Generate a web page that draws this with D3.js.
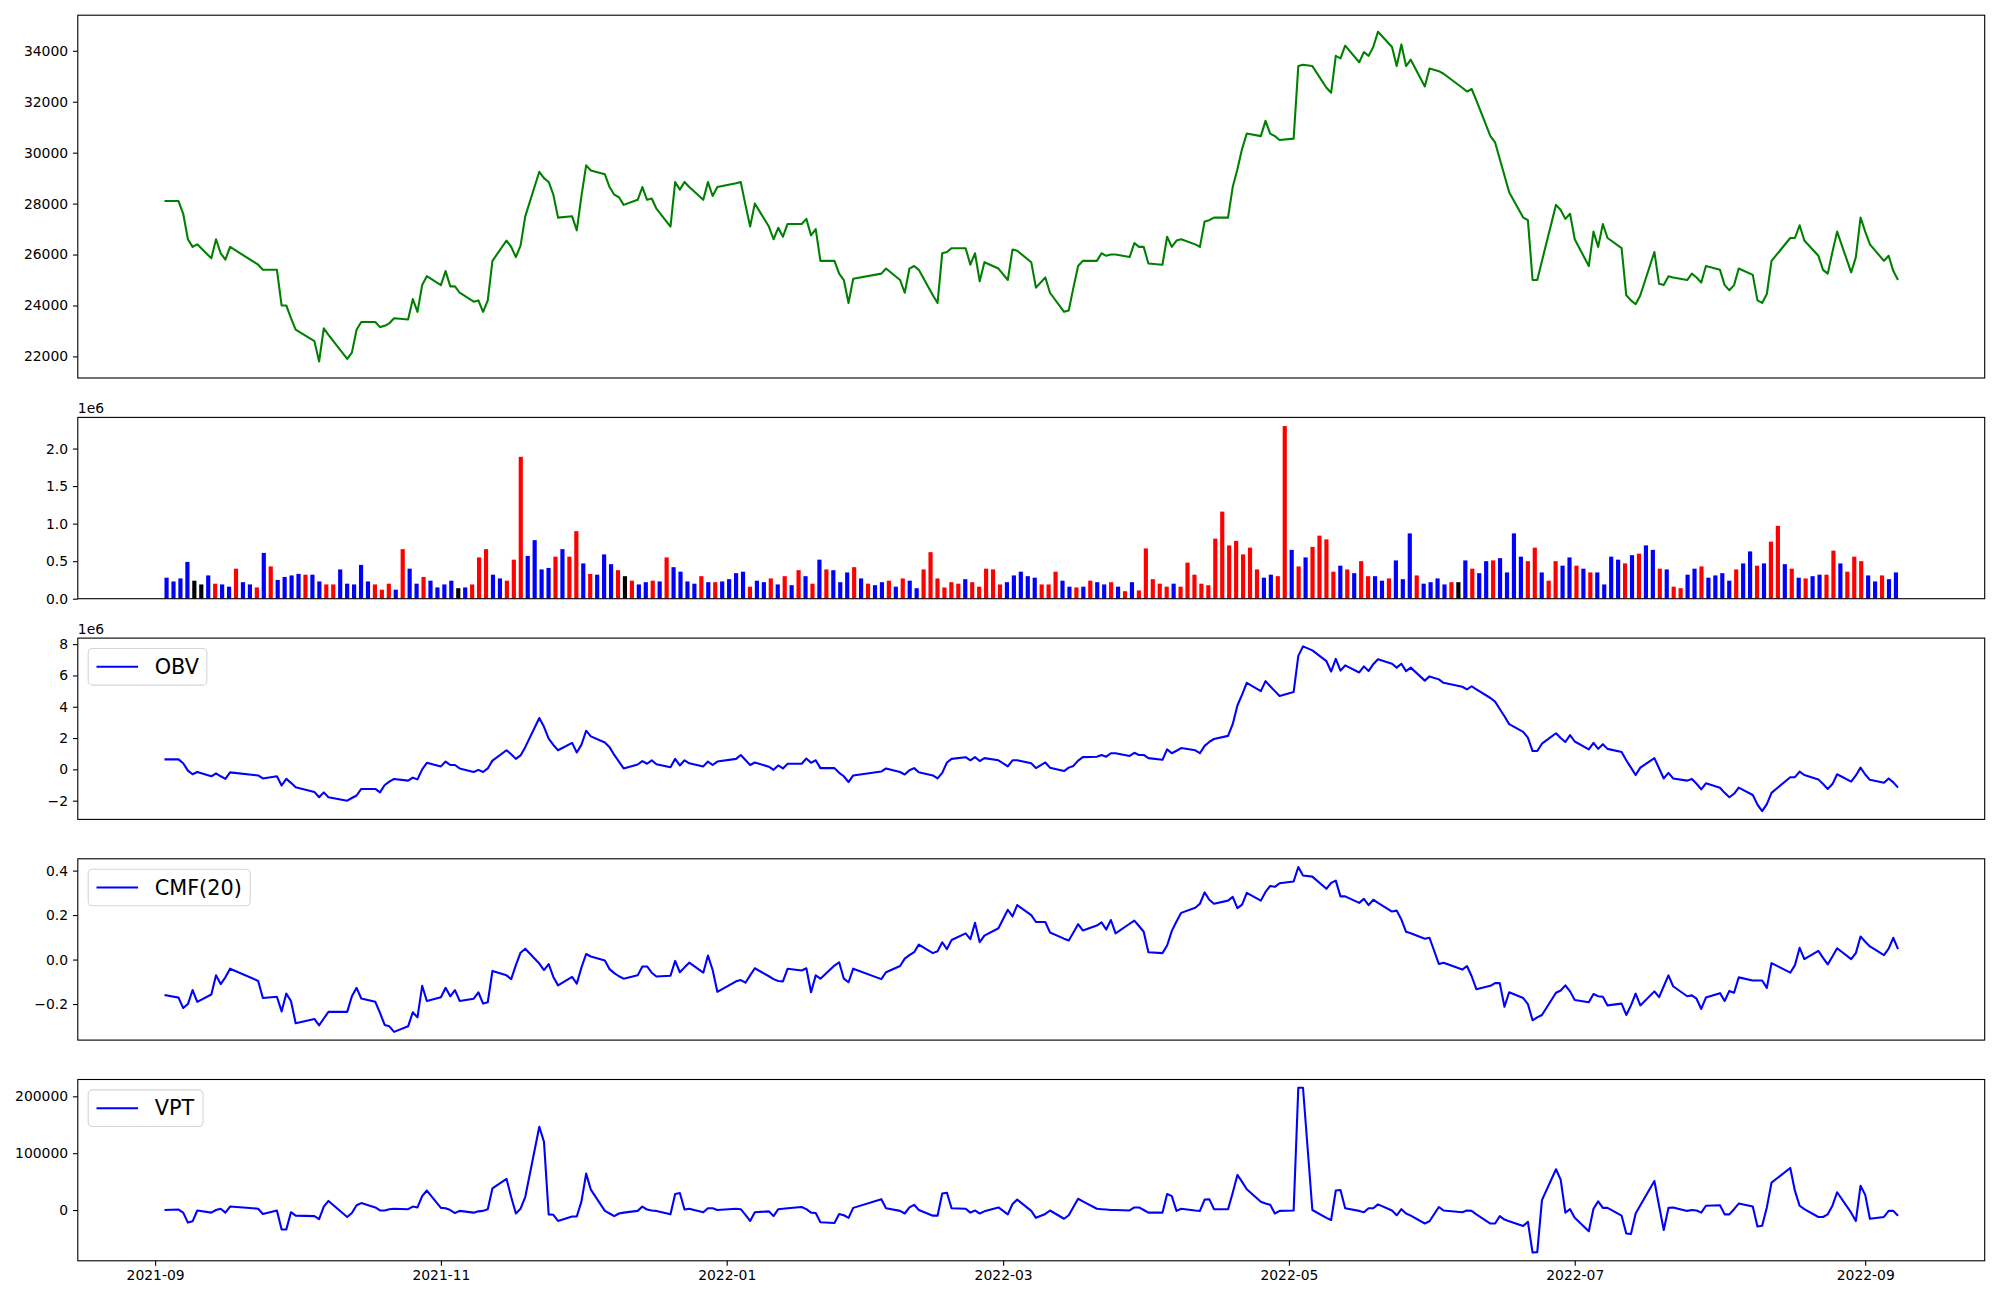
<!DOCTYPE html>
<html>
<head>
<meta charset="utf-8">
<script src="https://cdn.jsdelivr.net/npm/d3@7"></script>
<style>
  body { margin: 0; background: #fff; }
  svg text { font-family: "DejaVu Sans", sans-serif; fill: #000; }
</style>
</head>
<body>
<svg id="chart" width="2000" height="1300"></svg>
<script>
// trading calendar: weekdays between these dates, minus exchange holidays
const firstDay = '2021-09-03';
const lastDay = '2022-09-08';
const holidays = ['2021-09-20', '2021-09-21', '2021-09-22', '2021-10-04', '2021-10-11', '2021-12-31',
    '2022-01-31', '2022-02-01', '2022-02-02', '2022-03-01', '2022-03-09', '2022-05-05',
    '2022-06-01', '2022-06-06', '2022-08-15'];

// closing price, one row per month
const closePrice = [
    28100, 28100, 27600, 26600, 26300, 26400, 25850, 26600, 26050, 25800, 26300, 25600, 25400, 25400, 24000, 24000, 23500,
    23050, 22600, 21800, 23100, 22850, 21900, 22150, 23050, 23350, 23350, 23150, 23200, 23300, 23500, 23450, 24250, 23750, 24800, 25150,
    24800, 25350, 24750, 24750, 24500, 24150, 24200, 23750, 24200, 25750, 26550, 26300, 25900, 26350, 27500, 29250, 29000, 28850, 28350, 27450, 27500, 26950,
    28300, 29500, 29300, 29150, 28650, 28350, 28250, 27950, 28150, 28650, 28150, 28200, 27800, 27100, 28850, 28550, 28850, 28650, 28150, 28850, 28300, 28650,
    28800, 28850, 27950, 27100, 28000, 27100, 26600, 27050, 26700, 27200, 27200, 27400, 26750, 27000, 25750, 25750, 25250, 25000, 24100, 25050,
    25250, 25450, 25000, 24500, 25450, 25550, 25400, 24400, 24100, 26050, 26100, 26250, 26250, 25600, 26050, 24950, 25700, 25450,
    25000, 26200, 26150, 25700, 24700, 25100, 24500, 23750, 23800, 24700, 25550, 25750, 25750, 26050, 25950, 26000, 26000, 25900, 26450, 26300, 26300,
    25650, 25600, 26700, 26300, 26550, 26600, 26400, 26300, 27300, 27350, 27450, 27450, 28650, 29350, 30150, 30750, 30650, 31250, 30750, 30650, 30500,
    30550, 33400, 33450, 33400, 32550, 32350, 33800, 33700, 34200, 33550, 33950, 33800, 34150, 34750, 34150, 33400, 34250, 33400, 33650, 32600, 33300,
    33200, 33100, 32550, 32400, 32500, 32050, 30650, 30400, 29750, 29100, 28450, 27450, 27350, 25000, 25000, 25750, 27950, 27750, 27400, 27600,
    26600, 25550, 26900, 26300, 27200, 26650, 26250, 24400, 24200, 24050, 24400, 26100, 24850, 24800, 25150, 25100, 25000, 25250, 25100, 24900, 25550,
    25400, 24800, 24600, 24800, 25450, 25200, 24200, 24100, 24450, 25750, 26650, 26650, 27150, 26550, 25950, 25400, 25250, 26100, 26900, 25300, 25900, 27450,
    26900, 26400, 25750, 25950, 25350, 25000
];

// volume in millions, ten bars per row
const volumeM = [
    0.28, 0.23, 0.27, 0.49, 0.24, 0.19, 0.31, 0.20, 0.19, 0.16,
    0.40, 0.22, 0.19, 0.15, 0.61, 0.43, 0.25, 0.29, 0.31, 0.33,
    0.32, 0.32, 0.23, 0.19, 0.19, 0.39, 0.20, 0.19, 0.45, 0.23,
    0.19, 0.12, 0.20, 0.12, 0.66, 0.40, 0.20, 0.29, 0.24, 0.15,
    0.19, 0.24, 0.14, 0.15, 0.19, 0.55, 0.66, 0.32, 0.27, 0.24,
    0.52, 1.89, 0.57, 0.78, 0.39, 0.41, 0.56, 0.66, 0.56, 0.90,
    0.47, 0.33, 0.32, 0.59, 0.46, 0.38, 0.30, 0.24, 0.19, 0.22,
    0.24, 0.23, 0.55, 0.42, 0.36, 0.23, 0.20, 0.30, 0.22, 0.22,
    0.23, 0.26, 0.34, 0.36, 0.16, 0.24, 0.22, 0.27, 0.19, 0.30,
    0.18, 0.38, 0.30, 0.20, 0.52, 0.39, 0.38, 0.22, 0.35, 0.42,
    0.27, 0.20, 0.18, 0.22, 0.24, 0.16, 0.27, 0.24, 0.14, 0.39,
    0.62, 0.27, 0.15, 0.22, 0.20, 0.26, 0.22, 0.16, 0.40, 0.39,
    0.19, 0.22, 0.31, 0.36, 0.30, 0.28, 0.19, 0.19, 0.36, 0.24,
    0.16, 0.15, 0.16, 0.24, 0.22, 0.19, 0.22, 0.16, 0.10, 0.22,
    0.11, 0.67, 0.26, 0.20, 0.16, 0.20, 0.16, 0.48, 0.32, 0.20,
    0.18, 0.80, 1.16, 0.71, 0.77, 0.59, 0.68, 0.39, 0.28, 0.32,
    0.30, 2.30, 0.65, 0.43, 0.55, 0.69, 0.84, 0.79, 0.36, 0.44,
    0.39, 0.34, 0.50, 0.30, 0.30, 0.24, 0.27, 0.51, 0.26, 0.87,
    0.31, 0.20, 0.22, 0.27, 0.19, 0.22, 0.22, 0.51, 0.40, 0.34,
    0.50, 0.51, 0.54, 0.35, 0.87, 0.56, 0.50, 0.68, 0.35, 0.24,
    0.50, 0.44, 0.55, 0.44, 0.40, 0.35, 0.35, 0.19, 0.56, 0.52,
    0.47, 0.58, 0.60, 0.71, 0.65, 0.40, 0.39, 0.16, 0.14, 0.32,
    0.40, 0.43, 0.28, 0.31, 0.34, 0.24, 0.39, 0.47, 0.63, 0.44,
    0.47, 0.76, 0.97, 0.46, 0.40, 0.28, 0.27, 0.30, 0.32, 0.32,
    0.64, 0.47, 0.36, 0.56, 0.50, 0.31, 0.23, 0.31, 0.26, 0.35
];

// bar colour per day: R up, B down, K unchanged
const volumeDirection = [
    'BBBBKKBRBB', 'RBBRBRBBBB', 'RBBRRBBBBB', 'RRRBRBBRBB', 'BBKBRRRBBR',
    'RRBBBBRBRR', 'BRBBBRKRBB', 'RBRBBBBRBR', 'BBBBRBBRBR', 'BRBRBRBBBR',
    'BRBBRBRBBR', 'RRRRRBRRRR', 'RBBBBBRRRB', 'BRBRBBRBRB', 'RRRRRBRRRR',
    'RRRRRRRRBB', 'RRBRBRRRRB', 'RBRRBBRBBB', 'RBBBBRKBRB', 'BRBBBBRRBR',
    'RBBRBRBBBB', 'RBRBBRBRRB', 'BRBBBBRBBR', 'BRRBRBRBBR', 'RBRRRBBRBB'
].join('');

// on balance volume in millions, one row per month
const obvM = [
    0.64, 0.64, 0.39, -0.08, -0.31, -0.17, -0.44, -0.25, -0.44, -0.61, -0.19, -0.39, -0.58, -0.44, -1.03, -0.61, -0.86,
    -1.14, -1.44, -1.78, -1.47, -1.78, -2.0, -1.83, -1.67, -1.25, -1.25, -1.47, -1.0, -0.78, -0.61, -0.72, -0.53, -0.64, 0.0, 0.42,
    0.19, 0.5, 0.28, 0.28, 0.06, -0.17, -0.03, -0.17, 0.06, 0.56, 1.22, 0.97, 0.67, 0.89, 1.42, 3.28, 2.72, 1.97, 1.56, 1.22, 1.69, 1.08,
    1.58, 2.47, 2.11, 1.72, 1.42, 0.92, 0.5, 0.06, 0.31, 0.53, 0.36, 0.58, 0.33, 0.14, 0.67, 0.25, 0.58, 0.39, 0.19, 0.5, 0.28, 0.5,
    0.67, 0.92, 0.6, 0.28, 0.44, 0.17, -0.03, 0.25, 0.06, 0.36, 0.36, 0.69, 0.42, 0.58, 0.08, 0.08, -0.22, -0.44, -0.81, -0.39,
    -0.14, 0.06, -0.17, -0.33, -0.06, 0.08, -0.19, -0.39, -0.58, -0.22, 0.44, 0.67, 0.78, 0.58, 0.78, 0.53, 0.72, 0.58,
    0.19, 0.58, 0.58, 0.39, 0.08, 0.44, 0.11, -0.11, 0.11, 0.22, 0.56, 0.78, 0.81, 0.92, 0.81, 1.03, 1.03, 0.86, 1.06, 0.92, 0.92,
    0.72, 0.61, 1.28, 1.03, 1.19, 1.36, 1.22, 1.03, 1.5, 1.75, 1.94, 2.14, 2.89, 4.08, 4.78, 5.53, 5.0, 5.64, 5.31, 5.0, 4.69,
    4.94, 7.25, 7.86, 7.6, 6.92, 6.25, 7.06, 6.31, 6.64, 6.19, 6.58, 6.28, 6.72, 7.03, 6.75, 6.5, 6.75, 6.28, 6.5, 5.67, 5.94,
    5.75, 5.53, 5.28, 5.11, 5.31, 5.11, 4.56, 4.33, 3.86, 3.39, 2.89, 2.39, 2.03, 1.17, 1.17, 1.64, 2.31, 2.0, 1.75, 2.19,
    1.78, 1.28, 1.69, 1.31, 1.61, 1.31, 1.11, 0.58, 0.11, -0.36, 0.11, 0.72, 0.07, -0.58, -0.22, -0.58, -0.72, -0.61, -0.92, -1.28, -0.89,
    -1.17, -1.5, -1.78, -1.56, -1.17, -1.64, -2.25, -2.67, -2.22, -1.5, -0.5, -0.5, -0.14, -0.36, -0.64, -0.94, -1.25, -0.94, -0.31, -0.78, -0.39, 0.11,
    -0.33, -0.67, -0.86, -0.58, -0.83, -1.17
];

// chaikin money flow (20), one row per month
const cmf20 = [
    -0.159, -0.171, -0.218, -0.2, -0.137, -0.19, -0.157, -0.071, -0.11, -0.08, -0.041, -0.096, -0.173, -0.167, -0.233, -0.153, -0.186,
    -0.286, -0.267, -0.296, -0.265, -0.235, -0.235, -0.165, -0.127, -0.175, -0.19, -0.24, -0.294, -0.3, -0.325, -0.3, -0.237, -0.26, -0.118, -0.186,
    -0.169, -0.127, -0.165, -0.137, -0.186, -0.176, -0.147, -0.198, -0.192, -0.051, -0.071, -0.088, -0.025, 0.031, 0.049, -0.018, -0.047, -0.02, -0.078, -0.116, -0.078, -0.108,
    -0.035, 0.025, 0.014, -0.004, -0.043, -0.061, -0.075, -0.086, -0.071, -0.031, -0.031, -0.059, -0.076, -0.073, -0.006, -0.057, -0.035, -0.014, -0.059, 0.018, -0.047, -0.145,
    -0.098, -0.092, -0.104, -0.071, -0.039, -0.075, -0.088, -0.096, -0.098, -0.041, -0.049, -0.039, -0.147, -0.071, -0.086, -0.027, -0.012, -0.086, -0.102, -0.041,
    -0.088, -0.057, -0.029, 0.004, 0.02, 0.033, 0.067, 0.029, 0.037, 0.078, 0.047, 0.088, 0.118, 0.092, 0.165, 0.078, 0.108, 0.141,
    0.224, 0.194, 0.245, 0.2, 0.169, 0.169, 0.122, 0.094, 0.086, 0.122, 0.159, 0.131, 0.153, 0.167, 0.135, 0.178, 0.118, 0.161, 0.175, 0.151, 0.125,
    0.033, 0.029, 0.063, 0.129, 0.171, 0.21, 0.233, 0.251, 0.302, 0.269, 0.251, 0.265, 0.282, 0.231, 0.247, 0.3, 0.265, 0.304, 0.331, 0.327, 0.343,
    0.351, 0.416, 0.378, 0.373, 0.318, 0.345, 0.355, 0.284, 0.284, 0.255, 0.273, 0.245, 0.269, 0.255, 0.216, 0.22, 0.18, 0.125, 0.118, 0.094, 0.098,
    -0.02, -0.014, -0.045, -0.029, -0.075, -0.133, -0.118, -0.106, -0.106, -0.212, -0.147, -0.173, -0.2, -0.273, -0.26, -0.249, -0.149, -0.139, -0.116, -0.143,
    -0.182, -0.192, -0.155, -0.165, -0.167, -0.206, -0.198, -0.249, -0.206, -0.153, -0.206, -0.143, -0.169, -0.12, -0.071, -0.12, -0.165, -0.161, -0.176, -0.222, -0.171,
    -0.151, -0.186, -0.141, -0.149, -0.08, -0.094, -0.094, -0.094, -0.127, -0.016, -0.059, -0.025, 0.053, 0.002, 0.039, 0.008, -0.022, 0.014, 0.051, 0.002, 0.029, 0.104,
    0.08, 0.059, 0.02, 0.049, 0.098, 0.047
];

// volume price trend, one row per month
const vpt = [
    0, 800, -4600, -22100, -19800, -800, -4600, 0, 2300, -4600, 6100, 2300, -6900, -800, -34300, -34300, -3800,
    -9900, -10700, -16000, 6100, 16000, -12200, -5300, 8400, 12200, 4600, -800, -800, 1500, 2300, 1500, 6100, 4600, 24400, 34300,
    3800, 3100, 0, -5300, -1500, -4600, -2300, -1500, 1500, 38200, 54900, 22900, -6100, 2300, 22900, 146500, 119800, -7600, -8400, -19100, -11400, -11400,
    15300, 64100, 35900, -1500, -6100, -10700, -6100, -4600, -1500, 6100, 800, -800, -1500, -7600, 28200, 29800, 800, 2300, -3800, 3100, 3100, 0,
    2300, 1500, -8400, -19100, -3800, -2300, -10700, 1500, 2300, 3100, 5300, 1500, -4600, -5300, -21400, -22900, -6900, -9200, -13700, 3800,
    19100, 3100, -1500, -6100, 4600, 9200, 0, -9900, -9900, 29000, 30500, 3100, 2300, -4600, -800, -6100, -2300, 4600,
    -7600, 10700, 18300, -1500, -13700, -6900, -800, -15300, -9200, 5300, 19800, 15300, 2300, 1500, 800, 0, 0, -800, 4600, 4600, 0,
    -4600, -4600, 28200, 24400, -1500, 2300, -800, -1500, 18300, 19100, 1500, 1500, 30500, 61800, 49600, 36600, 14500, 11400, 9200, -6100, -1500,
    -800, 215100, 215100, 0, -13700, -17500, 34300, 35100, 3100, -1500, -3800, 3100, 3100, 9900, -800, -9200, 1500, -6100, -9900, -23700, -19800,
    5300, -800, -3800, -800, -1500, -7600, -23700, -23700, -10700, -16800, -19800, -28200, -20600, -74800, -74000, 17500, 71700, 53400, -4600, 1500,
    -13700, -37400, 2300, 15300, 3800, 3800, -9900, -41200, -42000, -6100, 8400, 51100, 7600, -35100, 3800, 4600, -1500, 0, -800, -4600, 7600,
    8400, -7600, -7600, 1500, 11400, 6100, -29000, -27500, 4600, 48100, 74000, 33600, 7600, 1500, -12200, -12200, -7600, 7600, 31300, -4600, -19100, 42700,
    26700, -15300, -12200, -1500, -1500, -9900
];

// tick labels
const priceTicks = [22000, 24000, 26000, 28000, 30000, 32000, 34000];
const volumeTicks = [0, 0.5, 1.0, 1.5, 2.0];
const obvTicks = [-2, 0, 2, 4, 6, 8];
const cmfTicks = [-0.2, 0.0, 0.2, 0.4];
const vptTicks = [0, 100000, 200000];
const monthTicks = ['2021-09-01', '2021-11-01', '2022-01-01', '2022-03-01', '2022-05-01', '2022-07-01', '2022-09-01'];

// ---- layout ----
const plotLeft = 77.8;
const plotRight = 1984.7;
const tickFont = 13.9;
const tickLen = 4.86;
const lineWidth = 2.08;
const barWidth = 0.6;

const svg = d3.select('#chart');
svg.append('rect').attr('width', 2000).attr('height', 1300).attr('fill', '#fff');

const parseDay = d3.timeParse('%Y-%m-%d');
const fmtDay = d3.timeFormat('%Y-%m-%d');
const tradingDates = d3.timeDay.range(parseDay(firstDay), d3.timeDay.offset(parseDay(lastDay), 1))
    .filter(d => d.getDay() % 6 !== 0 && !holidays.includes(fmtDay(d)));
const n = tradingDates.length;

const t0 = +tradingDates[0];
const t1 = +tradingDates[n - 1];
const xDate = d3.scaleTime()
    .domain([new Date(t0 - (t1 - t0) * 0.05), new Date(t1 + (t1 - t0) * 0.05)])
    .range([plotLeft, plotRight]);

const barSpan = (n - 1) + barWidth;
const xBar = d3.scaleLinear()
    .domain([-barWidth / 2 - barSpan * 0.05, n - 1 + barWidth / 2 + barSpan * 0.05])
    .range([plotLeft, plotRight]);

function paddedDomain(values) {
    const [lo, hi] = d3.extent(values);
    const pad = (hi - lo) * 0.05;
    return [lo - pad, hi + pad];
}

function drawFrame(top, bottom) {
    svg.append('rect')
        .attr('x', plotLeft)
        .attr('y', top)
        .attr('width', plotRight - plotLeft)
        .attr('height', bottom - top)
        .attr('fill', 'none')
        .attr('stroke', '#000')
        .attr('stroke-width', 1.1);
}

function drawYAxis(y, ticks, format) {
    const g = svg.append('g')
        .attr('transform', `translate(${plotLeft}, 0)`)
        .call(d3.axisLeft(y).tickValues(ticks).tickSize(tickLen).tickPadding(tickLen).tickFormat(format));
    g.select('.domain').remove();
    g.attr('font-family', null).attr('font-size', null);
    g.selectAll('.tick line').attr('stroke', '#000').attr('stroke-width', 1.1);
    g.selectAll('.tick text').style('font-size', tickFont + 'px').attr('fill', '#000');
    return g;
}

function drawOffsetLabel(top) {
    svg.append('text')
        .attr('x', plotLeft)
        .attr('y', top - 4.6)
        .style('font-size', tickFont + 'px')
        .text('1e6');
}

function drawLine(values, y, color) {
    const line = d3.line()
        .x((d, i) => xDate(tradingDates[i]))
        .y(d => y(d));
    svg.append('path')
        .datum(values)
        .attr('d', line)
        .attr('fill', 'none')
        .attr('stroke', color)
        .attr('stroke-width', lineWidth)
        .attr('stroke-linejoin', 'round');
}

function drawLegend(top, label, boxWidth) {
    const fs = 20.8;
    const x0 = plotLeft + 10.4;
    const y0 = top + 10.4;
    const h = 36.6;
    const g = svg.append('g');
    g.append('rect')
        .attr('x', x0)
        .attr('y', y0)
        .attr('width', boxWidth)
        .attr('height', h)
        .attr('rx', 4.2)
        .attr('fill', '#fff')
        .attr('fill-opacity', 0.8)
        .attr('stroke', '#d5d5d5')
        .attr('stroke-width', 1.1);
    g.append('line')
        .attr('x1', x0 + 8.3)
        .attr('x2', x0 + 8.3 + 41.6)
        .attr('y1', y0 + h / 2)
        .attr('y2', y0 + h / 2)
        .attr('stroke', 'blue')
        .attr('stroke-width', lineWidth);
    g.append('text')
        .attr('x', x0 + 8.3 + 41.6 + 16.6)
        .attr('y', y0 + h / 2)
        .attr('dominant-baseline', 'central')
        .style('font-size', fs + 'px')
        .text(label);
}

// ---- panel 1: price ----
const priceTop = 15.2, priceBottom = 378.0;
const yPrice = d3.scaleLinear().domain(paddedDomain(closePrice)).range([priceBottom, priceTop]);
drawLine(closePrice, yPrice, 'green');
drawYAxis(yPrice, priceTicks, d3.format('d'));
drawFrame(priceTop, priceBottom);

// ---- panel 2: volume bars ----
const volTop = 417.4, volBottom = 598.7;
const yVol = d3.scaleLinear().domain([0, d3.max(volumeM) * 1.05]).range([volBottom, volTop]);
const barColors = { R: 'red', B: 'blue', K: 'black' };
svg.append('g')
    .selectAll('rect')
    .data(volumeM)
    .enter()
    .append('rect')
    .attr('x', (d, i) => xBar(i - barWidth / 2))
    .attr('width', xBar(barWidth) - xBar(0))
    .attr('y', d => yVol(d))
    .attr('height', d => yVol(0) - yVol(d))
    .attr('fill', (d, i) => barColors[volumeDirection[i]]);
drawYAxis(yVol, volumeTicks, d3.format('.1f'));
drawFrame(volTop, volBottom);
drawOffsetLabel(volTop);

// ---- panel 3: OBV ----
const obvTop = 638.1, obvBottom = 819.4;
const yObv = d3.scaleLinear().domain(paddedDomain(obvM)).range([obvBottom, obvTop]);
drawLine(obvM, yObv, 'blue');
drawYAxis(yObv, obvTicks, d3.format('d'));
drawFrame(obvTop, obvBottom);
drawOffsetLabel(obvTop);
drawLegend(obvTop, 'OBV', 118.6);

// ---- panel 4: CMF ----
const cmfTop = 858.8, cmfBottom = 1040.1;
const yCmf = d3.scaleLinear().domain(paddedDomain(cmf20)).range([cmfBottom, cmfTop]);
drawLine(cmf20, yCmf, 'blue');
drawYAxis(yCmf, cmfTicks, d3.format('.1f'));
drawFrame(cmfTop, cmfBottom);
drawLegend(cmfTop, 'CMF(20)', 162);

// ---- panel 5: VPT ----
const vptTop = 1079.5, vptBottom = 1260.8;
const yVpt = d3.scaleLinear().domain(paddedDomain(vpt)).range([vptBottom, vptTop]);
drawLine(vpt, yVpt, 'blue');
drawYAxis(yVpt, vptTicks, d3.format('d'));
drawFrame(vptTop, vptBottom);
drawLegend(vptTop, 'VPT', 114.8);

// shared date axis under the last panel
const xAxisG = svg.append('g')
    .attr('transform', `translate(0, ${vptBottom})`)
    .call(d3.axisBottom(xDate)
        .tickValues(monthTicks.map(parseDay))
        .tickSize(tickLen)
        .tickPadding(tickLen)
        .tickFormat(d3.timeFormat('%Y-%m')));
xAxisG.select('.domain').remove();
xAxisG.attr('font-family', null).attr('font-size', null);
xAxisG.selectAll('.tick line').attr('stroke', '#000').attr('stroke-width', 1.1);
xAxisG.selectAll('.tick text').style('font-size', tickFont + 'px').attr('fill', '#000');
</script>
</body>
</html>
